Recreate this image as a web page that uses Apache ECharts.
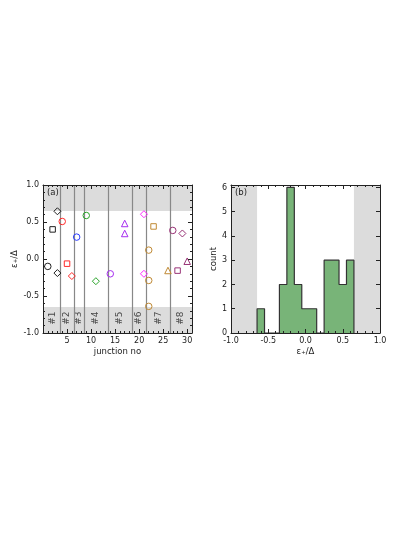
<!DOCTYPE html>
<html>
<head>
<meta charset="utf-8">
<script src="https://cdn.jsdelivr.net/npm/echarts@6/dist/echarts.min.js"></script>
<style>
  html, body { margin: 0; padding: 0; background: #fff; }
  #chart { width: 415px; height: 537px; }
</style>
</head>
<body>
<div id="chart"></div>
<script>
// (a) level positions per junction
const junctionNo = [1, 2, 3, 3, 4, 5, 6, 7, 9, 11, 14, 17, 17, 21, 21, 22, 22, 22, 23, 26, 27, 28, 29, 30];
const epsValue = [-0.10, 0.40, 0.645, -0.19, 0.507, -0.063, -0.23, 0.296, 0.588, -0.30, -0.20, 0.48, 0.345,
  0.605, -0.20, 0.12, -0.29, -0.64, 0.44, -0.155, 0.386, -0.157, 0.345, -0.03];
const markerShape = ["circle", "rect", "diamond", "diamond", "circle", "rect", "diamond", "circle", "circle", "diamond",
  "circle", "triangle", "triangle", "diamond", "diamond", "circle", "circle", "circle", "rect", "triangle",
  "circle", "rect", "diamond", "triangle"];
const sampleGroup = [1, 1, 1, 1, 2, 2, 2, 3, 4, 4, 5, 5, 5, 6, 6, 7, 7, 7, 7, 7, 8, 8, 8, 8];
const groupColors = ["#222222", "#ff2a2a", "#2a3cff", "#2aa52a", "#a62ef0", "#ff2aff", "#c08a35", "#993377"];
const groupBounds = [3.5, 6.5, 8.5, 13.5, 18.5, 21.5, 26.5];
const groupLabels = ["#1", "#2", "#3", "#4", "#5", "#6", "#7", "#8"];
const groupLabelX = [2.0, 5.0, 7.5, 11.0, 16.0, 20.0, 24.0, 28.7];
const gapLimit = 0.65;

// (b) histogram
const binStart = -0.65;
const binWidth = 0.1;
const binCounts = [1, 0, 0, 2, 6, 2, 1, 1, 0, 3, 3, 2, 3];

const chart = echarts.init(document.getElementById("chart"));

const font = "DejaVu Sans";
const axisColor = "#222";

function makeAxis(opts) {
  return Object.assign({
    type: "value",
    z: 10,
    axisLine: { show: true, onZero: false, lineStyle: { color: axisColor, width: 1 } },
    axisTick: { show: true, inside: true, length: 4, lineStyle: { color: axisColor } },
    minorTick: { show: true, splitNumber: 5, length: 2, lineStyle: { color: axisColor } },
    splitLine: { show: false },
    axisLabel: { color: axisColor, fontSize: 8, fontFamily: font, margin: 4 },
    nameTextStyle: { color: axisColor, fontSize: 8.5, fontFamily: font },
  }, opts);
}

// scatter series for panel (a), grouped by colour and shape
const scatterSeries = [];
const keys = {};
junctionNo.forEach((x, i) => {
  const key = sampleGroup[i] + "_" + markerShape[i];
  if (!keys[key]) {
    keys[key] = {
      type: "scatter",
      xAxisIndex: 0,
      yAxisIndex: 0,
      symbol: markerShape[i],
      symbolSize: markerShape[i] === "rect" ? 5.5 : (markerShape[i] === "diamond" ? 7 : 6.5),
      itemStyle: { color: "rgba(0,0,0,0)", borderColor: groupColors[sampleGroup[i] - 1], borderWidth: 1, opacity: 1 },
      data: [],
      z: 5,
    };
    scatterSeries.push(keys[key]);
  }
  keys[key].data.push([x, epsValue[i]]);
});

// histogram outline built from bin edges and counts
const histData = [[binStart, 0]];
binCounts.forEach((c, i) => {
  histData.push([binStart + i * binWidth, c]);
  histData.push([binStart + (i + 1) * binWidth, c]);
});
histData.push([binStart + binCounts.length * binWidth, 0]);

const option = {
  animation: false,
  backgroundColor: "#fff",
  grid: [
    { left: 43, top: 185, width: 149, height: 148 },
    { left: 231, top: 185, width: 149, height: 148 },
  ],
  xAxis: [
    makeAxis({
      gridIndex: 0, min: 0, max: 31, interval: 5, name: "junction no", nameLocation: "middle", nameGap: 14,
      axisLabel: { color: axisColor, fontSize: 8, fontFamily: font, margin: 4,
        formatter: (v) => (v > 0 && v % 5 === 0 ? String(v) : "") },
    }),
    makeAxis({ gridIndex: 0, min: 0, max: 31, interval: 5, position: "top", axisLabel: { show: false } }),
    makeAxis({
      gridIndex: 1, min: -1, max: 1, interval: 0.5, name: "ε₊/Δ", nameLocation: "middle", nameGap: 14,
      axisLabel: { color: axisColor, fontSize: 8, fontFamily: font, margin: 4, formatter: (v) => v.toFixed(1) },
    }),
    makeAxis({ gridIndex: 1, min: -1, max: 1, interval: 0.5, position: "top", axisLabel: { show: false } }),
  ],
  yAxis: [
    makeAxis({
      gridIndex: 0, min: -1, max: 1, interval: 0.5, name: "ε₊/Δ", nameLocation: "middle", nameGap: 18,
      axisLabel: { color: axisColor, fontSize: 8, fontFamily: font, margin: 4, formatter: (v) => v.toFixed(1) },
    }),
    makeAxis({ gridIndex: 0, min: -1, max: 1, interval: 0.5, position: "right", axisLabel: { show: false } }),
    makeAxis({
      gridIndex: 1, min: 0, max: 6.1, interval: 1, name: "count", nameLocation: "middle", nameGap: 12,
      minorTick: { show: false },
      axisLabel: { color: axisColor, fontSize: 8, fontFamily: font, margin: 4,
        formatter: (v) => (Number.isInteger(v) ? String(v) : "") },
    }),
    makeAxis({ gridIndex: 1, min: 0, max: 6.1, interval: 1, position: "right", minorTick: { show: false },
      axisLabel: { show: false } }),
  ],
  graphic: [
    { type: "text", left: 47, top: 188, z: 20, style: { text: "(a)", fontSize: 8.5, fontFamily: font, fill: axisColor } },
    { type: "text", left: 235, top: 188, z: 20, style: { text: "(b)", fontSize: 8.5, fontFamily: font, fill: axisColor } },
  ],
  series: [
    {
      // gap bands and junction separators in panel (a)
      type: "line",
      xAxisIndex: 0,
      yAxisIndex: 0,
      data: [],
      markArea: {
        silent: true,
        itemStyle: { color: "#dcdcdc" },
        data: [
          [{ yAxis: gapLimit }, { yAxis: 1 }],
          [{ yAxis: -1 }, { yAxis: -gapLimit }],
        ],
      },
      markLine: {
        silent: true,
        symbol: "none",
        label: { show: false },
        lineStyle: { color: "#888", width: 1.2, type: "solid" },
        data: groupBounds.map((b) => ({ xAxis: b })),
      },
    },
    {
      // junction group labels
      type: "scatter",
      xAxisIndex: 0,
      yAxisIndex: 0,
      symbolSize: 0,
      data: groupLabels.map((t, i) => ({ name: t, value: [groupLabelX[i], -0.8] })),
      label: {
        show: true,
        position: "inside",
        rotate: 90,
        formatter: (p) => p.name,
        color: axisColor,
        fontSize: 9,
        fontFamily: font,
      },
      z: 4,
    },
    ...scatterSeries,
    {
      // gap bands in panel (b)
      type: "line",
      xAxisIndex: 2,
      yAxisIndex: 2,
      data: [],
      markArea: {
        silent: true,
        itemStyle: { color: "#dcdcdc" },
        data: [
          [{ xAxis: -1 }, { xAxis: -gapLimit }],
          [{ xAxis: gapLimit }, { xAxis: 1 }],
        ],
      },
    },
    {
      type: "line",
      xAxisIndex: 2,
      yAxisIndex: 2,
      data: histData,
      symbol: "none",
      lineStyle: { color: "#333", width: 1.2 },
      areaStyle: { color: "#78b478", opacity: 1, origin: 0 },
      z: 3,
    },
  ],
};

chart.setOption(option);
</script>
</body>
</html>
